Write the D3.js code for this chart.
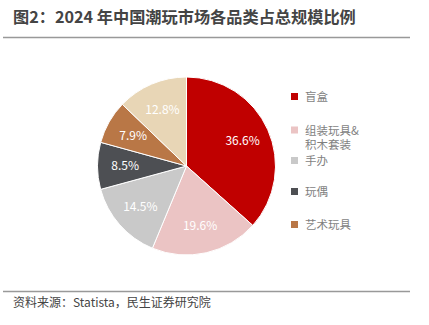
<!DOCTYPE html>
<html><head><meta charset="utf-8">
<script src="https://cdn.jsdelivr.net/npm/d3@7/dist/d3.min.js"></script>
<style>body{margin:0;background:#fff}</style>
</head><body>
<script>
const categories = ["盲盒", "组装玩具&积木套装", "手办", "玩偶", "艺术玩具", "其他"];
const values = [36.6, 19.6, 14.5, 8.5, 7.9, 12.8];
const labels = ["36.6%", "19.6%", "14.5%", "8.5%", "7.9%", "12.8%"];
const colors = ["#C00000", "#EBC4C4", "#C9C9C9", "#4D4F53", "#B97746", "#E8D6B6"];
const legendLines = [["盲盒"], ["组装玩具&", "积木套装"], ["手办"], ["玩偶"], ["艺术玩具"]];

const W = 429, H = 325;
const font = "'Microsoft YaHei','Noto Sans CJK SC',sans-serif";
const svg = d3.select("body").append("svg").attr("width", W).attr("height", H);

svg.append("text").attr("x", 13).attr("y", 23).attr("font-family", font)
  .attr("font-size", 16.2).attr("font-weight", "bold").attr("fill", "#444")
  .text("图2：2024 年中国潮玩市场各品类占总规模比例");
svg.append("line").attr("x1", 3).attr("x2", 410).attr("y1", 37.5).attr("y2", 37.5)
  .attr("stroke", "#999").attr("stroke-width", 1.5);
svg.append("line").attr("x1", 3).attr("x2", 410).attr("y1", 291.5).attr("y2", 291.5)
  .attr("stroke", "#999").attr("stroke-width", 1.5);
svg.append("text").attr("x", 13).attr("y", 307).attr("font-family", font)
  .attr("font-size", 12).attr("fill", "#444").text("资料来源：Statista，民生证券研究院");

const cx = 186.5, cy = 166, r = 89;
const pie = d3.pie().sort(null).value(d => d)(values);
const arc = d3.arc().innerRadius(0).outerRadius(r);
const g = svg.append("g").attr("transform", `translate(${cx},${cy})`);
g.selectAll("path").data(pie).join("path").attr("d", arc)
  .attr("fill", (d, i) => colors[i]).attr("stroke", "#fff").attr("stroke-width", 1);
const la = d3.arc().innerRadius(r * 0.69).outerRadius(r * 0.69);
g.selectAll("text").data(pie).join("text")
  .attr("transform", d => `translate(${la.centroid(d)})`)
  .attr("text-anchor", "middle").attr("dy", "0.35em")
  .attr("font-family", font).attr("font-size", 12).attr("fill", "#fff")
  .text((d, i) => labels[i]);

const ly = [97, 130.5, 161, 192, 225];
const lg = svg.append("g");
legendLines.forEach((lines, i) => {
  lg.append("rect").attr("x", 291).attr("y", ly[i] - 4).attr("width", 7).attr("height", 7).attr("fill", colors[i]);
  lines.forEach((t, j) => {
    lg.append("text").attr("x", 305).attr("y", ly[i] + j * 14.5).attr("dy", "0.35em")
      .attr("font-family", font).attr("font-size", 11.5).attr("fill", "#7f7f7f").text(t);
  });
});
</script>
</body></html>
